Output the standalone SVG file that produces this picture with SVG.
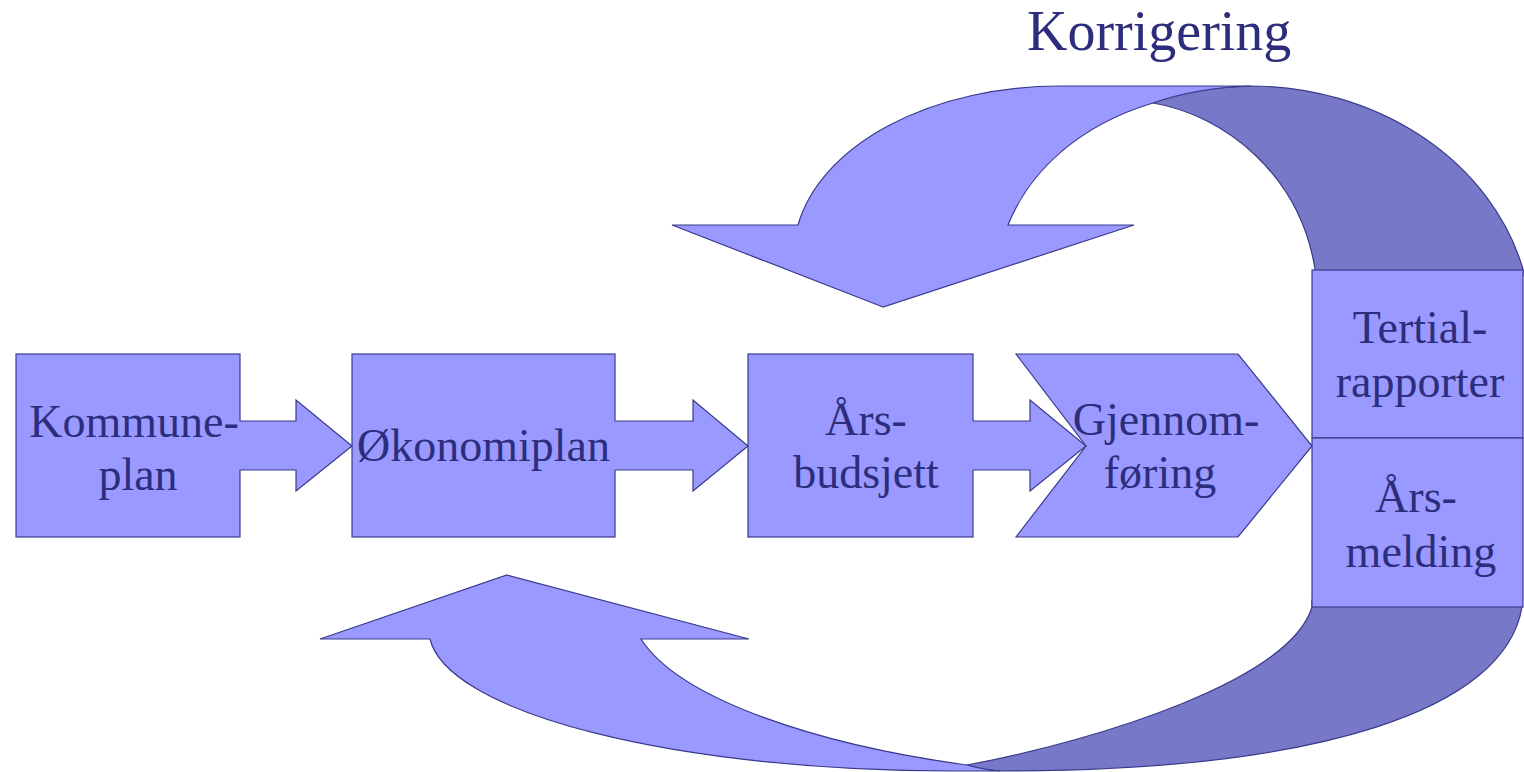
<svg xmlns="http://www.w3.org/2000/svg" width="1524" height="772" viewBox="0 0 1524 772">
<style>
.lt{fill:#9999ff;stroke:#3a3a8c;stroke-width:1.2;stroke-linejoin:miter}
.dk{fill:#7878c8;stroke:#3a3a8c;stroke-width:1.2}
.nf{fill:#9999ff;stroke:none}
.ol{fill:none;stroke:#3a3a8c;stroke-width:1.2}
.t{font-family:"Liberation Serif","Times New Roman",serif;font-size:46px;fill:#2d2d7d;text-anchor:middle}
</style>
<rect width="1524" height="772" fill="#ffffff"/>
<text x="1027" y="50" style="font-family:'Liberation Serif','Times New Roman',serif;font-size:56px;fill:#2d2d7d">Korrigering</text>
<g id="connectors">
  <path class="dk" d="M1153,103 Q1195,88 1250,86 A282 244 0 0 1 1523,269 L1523,276 L1315,276 L1315,269 C1300,175 1225,115 1153,103 Z"/>
  <path class="lt" d="M883,307 L672,225 L798,225 A266 169 0 0 1 1060,86 L1250,86 Q1195,88 1153,103 C1080,125 1030,170 1008,225 L1134,225 Z"/>
  <path class="dk" d="M1312,600 L1312,607 C1290,680 1100,740 967,765 Q985,770 1000,771 C1320,771 1505,710 1522,607 L1522,600 Z"/>
  <path class="lt" d="M507,575 L749,639 L641,639 C680,700 820,745 967,765 Q985,770 1000,771 L950,771 A523 141 0 0 1 430,639 L320,639 Z"/>
</g>
<g id="kommuneplan">
  <rect class="lt" x="16" y="354" width="224" height="183"/>
</g>
<g id="okonomiplan">
  <rect class="lt" x="352" y="354" width="263" height="183"/>
</g>
<g id="arsbudsjett">
  <rect class="lt" x="748" y="354" width="225" height="183"/>
</g>
<g id="gjennomforing">
  <path class="lt" d="M1016,354 L1238,354 L1312,446 L1238,537 L1016,537 L1086,446 Z"/>
</g>
<g id="block-arrows">
  <path class="nf" d="M236,421 L296,421 L296,400 L352,446 L296,491 L296,470 L236,470 Z"/>
  <path class="ol" d="M240,421 L296,421 L296,400 L352,446 L296,491 L296,470 L240,470"/>
  <path class="nf" d="M611,421 L693,421 L693,400 L748,446 L693,491 L693,470 L611,470 Z"/>
  <path class="ol" d="M615,421 L693,421 L693,400 L748,446 L693,491 L693,470 L615,470"/>
  <path class="nf" d="M969,421 L1030,421 L1030,400 L1086,446 L1030,491 L1030,470 L969,470 Z"/>
  <path class="ol" d="M973,421 L1030,421 L1030,400 L1086,446 L1030,491 L1030,470 L973,470"/>
</g>
<g id="tertialrapporter">
  <rect class="lt" x="1312" y="270" width="211" height="168"/>
</g>
<g id="arsmelding">
  <rect class="lt" x="1312" y="438" width="211" height="169"/>
</g>
<g id="labels">
  <text class="t" x="134" y="437">Kommune-</text>
  <text class="t" x="138" y="490">plan</text>
  <text class="t" x="357" y="461" style="text-anchor:start">Økonomiplan</text>
  <text class="t" x="866" y="435">Års-</text>
  <text class="t" x="866" y="488">budsjett</text>
  <text class="t" x="1166" y="435">Gjennom-</text>
  <text class="t" x="1160" y="488">føring</text>
  <text class="t" x="1420" y="343">Tertial-</text>
  <text class="t" x="1420" y="397">rapporter</text>
  <text class="t" x="1416" y="512">Års-</text>
  <text class="t" x="1421" y="567">melding</text>
</g>
</svg>
